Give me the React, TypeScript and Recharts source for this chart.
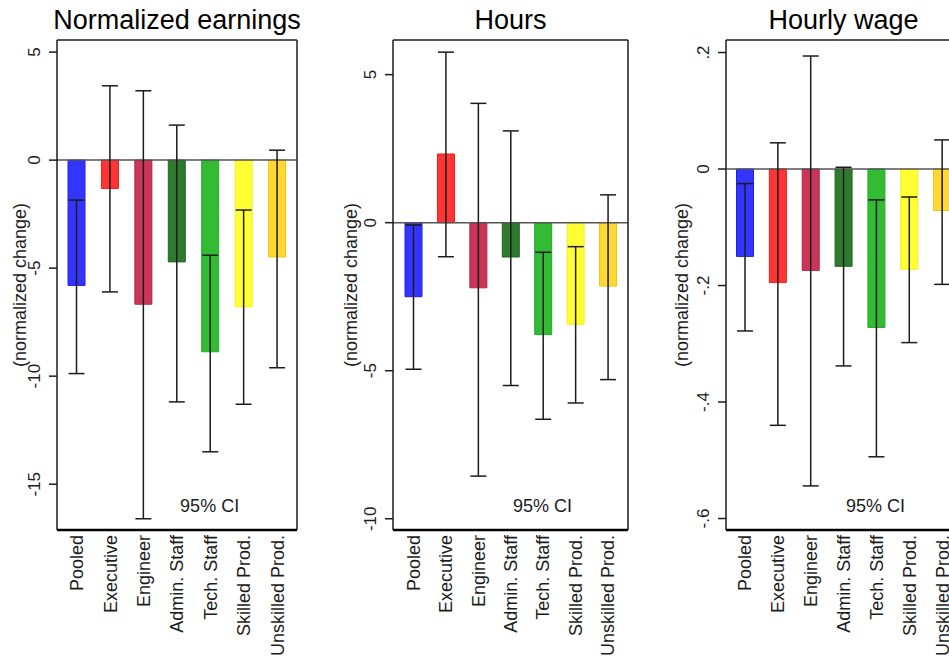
import React from "react";
import { BarChart, Bar, XAxis, YAxis, ReferenceLine, ErrorBar, Cell } from "recharts";

// ---------- data ----------
const categories = [
  "Pooled",
  "Executive",
  "Engineer",
  "Admin. Staff",
  "Tech. Staff",
  "Skilled Prod.",
  "Unskilled Prod.",
];

const barFills = ["#3434ff", "#ff3434", "#cb3658", "#2f7a2f", "#33bb33", "#ffff33", "#ffd833"];
const barStrokes = ["#2020e8", "#ee1c1c", "#b82048", "#1f661f", "#22aa22", "#eeee22", "#f5c400"];

const earnings = [-5.8, -1.31, -6.67, -4.71, -8.87, -6.79, -4.48];
const earningsLo = [-9.88, -6.1, -16.6, -11.19, -13.5, -11.3, -9.61];
const earningsHi = [-1.85, 3.44, 3.21, 1.62, -4.4, -2.31, 0.46];

const hours = [-2.5, 2.32, -2.2, -1.16, -3.78, -3.43, -2.14];
const hoursLo = [-4.95, -1.15, -8.56, -5.5, -6.64, -6.09, -5.3];
const hoursHi = [-0.08, 5.76, 4.03, 3.1, -1.0, -0.81, 0.94];

const wage = [-0.15, -0.195, -0.174, -0.167, -0.272, -0.172, -0.071];
const wageLo = [-0.278, -0.44, -0.544, -0.338, -0.494, -0.298, -0.198];
const wageHi = [-0.025, 0.045, 0.194, 0.003, -0.053, -0.048, 0.05];

const earningsTicks = [-15, -10, -5, 0, 5];
const earningsTickLabels = ["-15", "-10", "-5", "0", "5"];
const hoursTicks = [-10, -5, 0, 5];
const hoursTickLabels = ["-10", "-5", "0", "5"];
const wageTicks = [-0.6, -0.4, -0.2, 0, 0.2];
const wageTickLabels = ["-.6", "-.4", "-.2", "0", ".2"];

const titles = ["Normalized earnings", "Hours", "Hourly wage"];
const yAxisTitle = "(normalized change)";
const ciNote = "95% CI";

// ---------- styling ----------
const FONT = '"Liberation Sans", Arial, Helvetica, sans-serif';
const INK = "#1c1c1c";

function buildRows(values: number[], lo: number[], hi: number[]) {
  return categories.map((c, i) => ({
    name: c,
    value: values[i],
    err: [values[i] - lo[i], hi[i] - values[i]],
  }));
}

function makeYTick(ticks: number[], labels: string[]) {
  return (props: any) => {
    const { x, y, payload } = props;
    let label = String(payload.value);
    ticks.forEach((t, i) => {
      if (Math.abs(t - payload.value) < 1e-9) label = labels[i];
    });
    return (
      <text
        x={x}
        y={y}
        transform={`rotate(-90 ${x} ${y})`}
        textAnchor="middle"
        fontSize={17}
        fontFamily={FONT}
        fill={INK}
      >
        {label}
      </text>
    );
  };
}

const XTick = (props: any) => {
  const { x, y, payload } = props;
  return (
    <text
      x={x}
      y={y}
      dy="0.36em"
      transform={`rotate(-90 ${x} ${y})`}
      textAnchor="end"
      fontSize={18}
      fontFamily={FONT}
      fill={INK}
    >
      {payload.value}
    </text>
  );
};

type PanelProps = {
  title: string;
  values: number[];
  lo: number[];
  hi: number[];
  domain: [number, number];
  ticks: number[];
  tickLabels: string[];
  left: number;
  width: number;
  yAxisWidth: number;
  plotWidth: number;
  pad: number;
  yTitleOffset: number;
};

const PLOT_TOP = 40;
const PLOT_BOTTOM = 530;
const CHART_H = 664;

function Panel(p: PanelProps) {
  const rows = buildRows(p.values, p.lo, p.hi);
  const rightMargin = p.width - p.yAxisWidth - p.plotWidth - 1;
  return (
    <div style={{ position: "absolute", left: p.left, top: 0, width: p.width, height: CHART_H }}>
      <div
        style={{
          position: "absolute",
          left: p.yAxisWidth - 40,
          width: p.plotWidth + 80,
          top: 7,
          textAlign: "center",
          fontFamily: FONT,
          fontSize: 27,
          lineHeight: "27px",
          color: "#000",
          whiteSpace: "nowrap",
        }}
      >
        {p.title}
      </div>
      <BarChart
        width={p.width}
        height={CHART_H}
        data={rows}
        margin={{ top: PLOT_TOP - 1, right: rightMargin, left: 0, bottom: 0 }}
      >
        <XAxis
          dataKey="name"
          height={CHART_H - PLOT_BOTTOM}
          interval={0}
          tickLine={false}
          tickSize={0}
          tickMargin={5}
          padding={{ left: p.pad, right: p.pad }}
          axisLine={{ stroke: "#000", strokeWidth: 2.5 }}
          tick={<XTick />}
          label={{
            content: (lp: any) => {
              const vb = lp.viewBox || {};
              return (
                <text
                  x={vb.x + vb.width * 0.636}
                  y={vb.y - 18}
                  textAnchor="middle"
                  fontSize={18}
                  fontFamily={FONT}
                  fill={INK}
                >
                  {ciNote}
                </text>
              );
            },
          }}
        />
        <XAxis
          xAxisId="top"
          orientation="top"
          dataKey="name"
          height={1}
          tick={false}
          tickLine={false}
          axisLine={{ stroke: INK, strokeWidth: 1.5 }}
        />
        <YAxis
          width={p.yAxisWidth}
          domain={p.domain}
          allowDataOverflow
          ticks={p.ticks}
          interval={0}
          tickSize={8}
          tickMargin={9}
          tickLine={{ stroke: INK, strokeWidth: 1.5 }}
          axisLine={{ stroke: INK, strokeWidth: 1.5 }}
          tick={makeYTick(p.ticks, p.tickLabels)}
          label={{
            content: (lp: any) => {
              const vb = lp.viewBox || {};
              const x = vb.x + vb.width - p.yTitleOffset;
              const y = vb.y + vb.height / 2;
              return (
                <text
                  x={x}
                  y={y}
                  transform={`rotate(-90 ${x} ${y})`}
                  textAnchor="middle"
                  fontSize={18}
                  fontFamily={FONT}
                  fill={INK}
                >
                  {yAxisTitle}
                </text>
              );
            },
          }}
        />
        <YAxis
          yAxisId="right"
          orientation="right"
          width={1}
          domain={p.domain}
          tick={false}
          tickLine={false}
          axisLine={{ stroke: INK, strokeWidth: 1.5 }}
        />
        <ReferenceLine y={0} stroke="#555" strokeWidth={1.5} />
        <Bar dataKey="value" barSize={17} isAnimationActive={false}>
          {rows.map((r, i) => (
            <Cell key={r.name} fill={barFills[i]} stroke={barStrokes[i]} strokeWidth={1} />
          ))}
          <ErrorBar
            dataKey="err"
            direction="y"
            width={8}
            stroke={INK}
            strokeWidth={1.5}
            isAnimationActive={false}
          />
        </Bar>
      </BarChart>
    </div>
  );
}

export default function App() {
  return (
    <div
      style={{
        position: "absolute",
        left: 0,
        top: 0,
        width: 949,
        height: 664,
        overflow: "hidden",
        background: "#fff",
      }}
    >
      <Panel
        title={titles[0]}
        values={earnings}
        lo={earningsLo}
        hi={earningsHi}
        domain={[-17.12, 5.56]}
        ticks={earningsTicks}
        tickLabels={earningsTickLabels}
        left={0}
        width={300}
        yAxisWidth={57}
        plotWidth={240}
        pad={3}
        yTitleOffset={31}
      />
      <Panel
        title={titles[1]}
        values={hours}
        lo={hoursLo}
        hi={hoursHi}
        domain={[-10.38, 6.17]}
        ticks={hoursTicks}
        tickLabels={hoursTickLabels}
        left={330}
        width={300}
        yAxisWidth={63}
        plotWidth={235}
        pad={4}
        yTitleOffset={36}
      />
      <Panel
        title={titles[2]}
        values={wage}
        lo={wageLo}
        hi={wageHi}
        domain={[-0.6197, 0.2215]}
        ticks={wageTicks}
        tickLabels={wageTickLabels}
        left={660}
        width={310}
        yAxisWidth={66}
        plotWidth={235}
        pad={2.5}
        yTitleOffset={38}
      />
    </div>
  );
}
